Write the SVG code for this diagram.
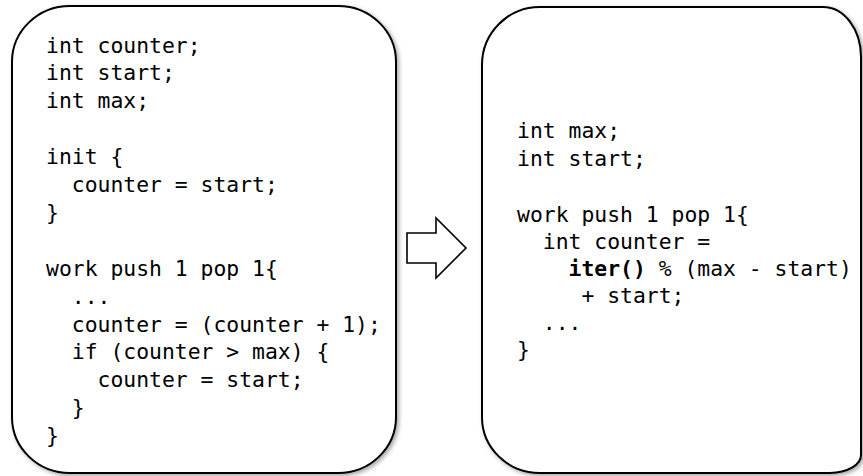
<svg xmlns="http://www.w3.org/2000/svg" width="863" height="476" viewBox="0 0 863 476">
<style>
.box{fill:#fff;stroke:#000;stroke-width:2;filter:url(#sh)}
.code{font-family:"DejaVu Sans Mono","Liberation Mono",monospace;font-size:21.4px;fill:#000;white-space:pre}
.b{font-weight:bold}
.arrow{fill:#fff;stroke:#000;stroke-width:1.6;stroke-linejoin:miter}
</style>
<defs>
<filter id="sh" x="-5%" y="-5%" width="115%" height="115%">
<feDropShadow dx="2" dy="2" stdDeviation="2" flood-color="#000" flood-opacity="0.35"/>
</filter>
</defs>
<rect width="863" height="476" fill="#fff"/>
<g id="left-box">
<rect class="box" x="12" y="6" width="384" height="467" rx="58" ry="56"/>
<text class="code" xml:space="preserve" x="46" y="52.5">int counter;</text>
<text class="code" xml:space="preserve" x="46" y="80.4">int start;</text>
<text class="code" xml:space="preserve" x="46" y="108.3">int max;</text>
<text class="code" xml:space="preserve" x="46" y="164.1">init {</text>
<text class="code" xml:space="preserve" x="46" y="192">  counter = start;</text>
<text class="code" xml:space="preserve" x="46" y="219.9">}</text>
<text class="code" xml:space="preserve" x="46" y="275.7">work push 1 pop 1{</text>
<text class="code" xml:space="preserve" x="46" y="303.6">  ...</text>
<text class="code" xml:space="preserve" x="46" y="331.5">  counter = (counter + 1);</text>
<text class="code" xml:space="preserve" x="46" y="359.4">  if (counter &gt; max) {</text>
<text class="code" xml:space="preserve" x="46" y="387.3">    counter = start;</text>
<text class="code" xml:space="preserve" x="46" y="415.2">  }</text>
<text class="code" xml:space="preserve" x="46" y="443.1">}</text>
</g>
<g id="right-box">
<path class="box" d="M540,7 H823 A38,50 0 0 1 861,57 V455 A31,18 0 0 1 830,473 H540 A58,56 0 0 1 482,417 V65 A58,58 0 0 1 540,7 Z"/>
<text class="code" xml:space="preserve" x="517" y="138">int max;</text>
<text class="code" xml:space="preserve" x="517" y="165.5">int start;</text>
<text class="code" xml:space="preserve" x="517" y="221.5">work push 1 pop 1{</text>
<text class="code" xml:space="preserve" x="517" y="248.5">  int counter =</text>
<text class="code" xml:space="preserve" x="517" y="275.5">    <tspan class="b">iter()</tspan> % (max - start)</text>
<text class="code" xml:space="preserve" x="517" y="302.5">     + start;</text>
<text class="code" xml:space="preserve" x="517" y="329.5">  ...</text>
<text class="code" xml:space="preserve" x="517" y="356.5">}</text>
</g>
<g id="connectors">
<polygon class="arrow" points="407,233 436,233 436,218 466,248 436,278 436,263 407,263"/>
</g>
</svg>
